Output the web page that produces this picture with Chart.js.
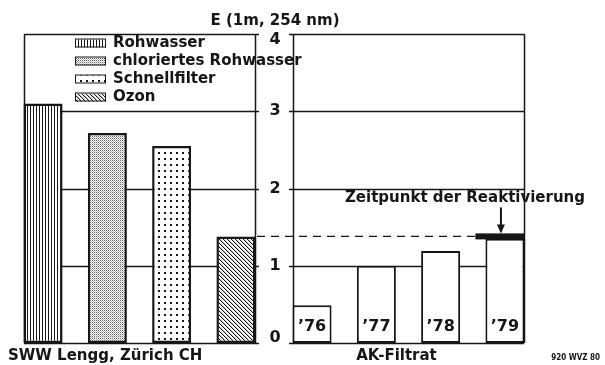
<!DOCTYPE html>
<html>
<head>
<meta charset="utf-8">
<script src="https://cdn.jsdelivr.net/npm/chart.js@4"></script>
<style>
  html, body { margin: 0; padding: 0; background: #fff; }
  #wrap { position: relative; width: 605px; height: 365px; }
</style>
</head>
<body>
<div id="wrap"><canvas id="myChart" width="605" height="365"></canvas></div>
<script>
const categories = ["SWW Lengg, Zürich CH", "AK-Filtrat"];
const treatmentNames = ["Rohwasser", "chloriertes Rohwasser", "Schnellfilter", "Ozon"];
const treatmentValues = [3.1, 2.72, 2.55, 1.38];
const yearNames = ["\u201976", "\u201977", "\u201978", "\u201979"];
const yearValues = [0.49, 1.0, 1.19, 1.35];
const yTicks = [0, 1, 2, 3, 4];
const reactivationLevel = 1.38;
const axisTitle = "E (1m, 254 nm)";
const reactivationText = "Zeitpunkt der Reaktivierung";
const figureNote = "920 WVZ 80";

const FONT = '"DejaVu Sans", "Liberation Sans", sans-serif';
const INK = "#161616";

const canvas = document.getElementById("myChart");

// small repeating tiles for the hatched bars
function makePattern(w, h, draw) {
    const c = document.createElement("canvas");
    c.width = w;
    c.height = h;
    const g = c.getContext("2d");
    g.fillStyle = "#fff";
    g.fillRect(0, 0, w, h);
    g.fillStyle = INK;
    draw(g);
    return canvas.getContext("2d").createPattern(c, "repeat");
}

const fills = [
    // vertical stripes
    makePattern(3, 1, g => g.fillRect(0, 0, 1, 1)),
    // fine stipple
    makePattern(2, 2, g => {
        g.fillStyle = "#666";
        g.fillRect(0, 0, 1, 1);
        g.fillStyle = "#bbb";
        g.fillRect(1, 1, 1, 1);
    }),
    // coarse dots
    makePattern(6, 6, g => g.fillRect(2, 2, 2, 2)),
    // diagonal hatch
    makePattern(4, 4, g => {
        for (let i = 0; i < 4; i++) g.fillRect(i, i, 1, 1);
        g.fillStyle = "#c4c4c4";
        for (let i = 0; i < 4; i++) g.fillRect((i + 1) % 4, i, 1, 1);
    })
];

const datasets = treatmentNames.map((name, i) => ({
    label: name,
    data: [treatmentValues[i], null],
    backgroundColor: fills[i],
    borderColor: INK,
    borderWidth: 2.5
}));
yearNames.forEach((name, i) => datasets.push({
    label: name,
    data: [null, yearValues[i]],
    backgroundColor: "#fff",
    borderColor: INK,
    borderWidth: 2
}));

function line(ctx, x1, y1, x2, y2) {
    ctx.beginPath();
    ctx.moveTo(x1, y1);
    ctx.lineTo(x2, y2);
    ctx.stroke();
}

// horizontal extent of the bars in each category
function panelBounds(chart) {
    return categories.map((_, idx) => {
        let left = Infinity, right = -Infinity, last = null;
        chart.data.datasets.forEach((ds, i) => {
            if (ds.data[idx] == null) return;
            const bar = chart.getDatasetMeta(i).data[idx];
            left = Math.min(left, bar.x - bar.width / 2);
            right = Math.max(right, bar.x + bar.width / 2);
            last = bar;
        });
        return { left: Math.round(left), right: Math.round(right), last };
    });
}

const framePlugin = {
    id: "frames",
    beforeDatasetsDraw(chart) {
        const ctx = chart.ctx;
        const y = chart.scales.y;
        const [lp, rp] = panelBounds(chart);
        const top = y.getPixelForValue(4);
        const bottom = y.getPixelForValue(0);

        ctx.save();
        ctx.strokeStyle = INK;
        ctx.lineWidth = 1.5;
        yTicks.forEach(t => {
            const py = Math.round(y.getPixelForValue(t)) + 0.5;
            line(ctx, lp.left, py, lp.right + 4, py);
            line(ctx, rp.left - 4, py, rp.right, py);
        });
        [lp.left, lp.right, rp.left, rp.right].forEach(px => {
            line(ctx, px + 0.5, top, px + 0.5, bottom);
        });

        // level of the ozone stage carried across to the carbon filter
        const ly = y.getPixelForValue(reactivationLevel);
        ctx.lineWidth = 1.3;
        ctx.setLineDash([8, 6]);
        line(ctx, lp.right + 2, ly, rp.last.x - rp.last.width / 2 - 10, ly);
        ctx.restore();
    },
    afterDatasetsDraw(chart) {
        const ctx = chart.ctx;
        const y = chart.scales.y;
        const [lp, rp] = panelBounds(chart);
        const ly = y.getPixelForValue(reactivationLevel);
        const last = rp.last;

        ctx.save();
        ctx.fillStyle = INK;
        ctx.strokeStyle = INK;

        // reactivation marker on top of the last filter bar
        const mx = last.x - last.width / 2 - 10;
        ctx.fillRect(mx, ly - 3, rp.right + 1 - mx, 6);

        // arrow pointing at it
        const ax = last.x - 4;
        ctx.lineWidth = 2;
        line(ctx, ax, ly - 29, ax, ly - 10);
        ctx.beginPath();
        ctx.moveTo(ax - 4, ly - 12);
        ctx.lineTo(ax + 4, ly - 12);
        ctx.lineTo(ax, ly - 3);
        ctx.closePath();
        ctx.fill();

        ctx.textBaseline = "middle";
        ctx.font = "bold 15px " + FONT;
        ctx.textAlign = "center";
        ctx.fillText(reactivationText, 465, 198);

        // y ticks between the two panels
        const cx = (lp.right + rp.left) / 2 + 1;
        ctx.font = "bold 16px " + FONT;
        yTicks.forEach(t => {
            let py = y.getPixelForValue(t);
            py = Math.min(Math.max(py, y.top + 6), y.bottom - 5);
            ctx.fillText(String(t), cx, py);
        });
        ctx.font = "bold 15px " + FONT;
        ctx.fillText(axisTitle, 275, 21);

        // year labels inside the carbon filter bars
        ctx.font = "bold 16px " + FONT;
        datasets.forEach((ds, i) => {
            if (ds.data[1] == null) return;
            const bar = chart.getDatasetMeta(i).data[1];
            ctx.fillText(ds.label, bar.x, y.bottom - 16);
        });

        // category labels under each panel
        ctx.font = "bold 15px " + FONT;
        ctx.textAlign = "left";
        ctx.fillText(categories[0], lp.left - 16, 356);
        ctx.textAlign = "center";
        ctx.fillText(categories[1], (rp.left + rp.right) / 2 - 12, 356);

        ctx.font = 'bold 8px "DejaVu Sans Condensed", ' + FONT;
        ctx.textAlign = "right";
        ctx.fillText(figureNote, 600, 358);

        // legend for the treatment stages
        ctx.font = "bold 15px " + FONT;
        ctx.textAlign = "left";
        treatmentNames.forEach((name, i) => {
            const ry = 43.5 + i * 18;
            ctx.fillStyle = fills[i];
            ctx.fillRect(75, ry - 4, 31, 8);
            ctx.lineWidth = 1;
            ctx.strokeRect(75.5, ry - 4.5, 30, 8);
            ctx.fillStyle = INK;
            ctx.fillText(name, 113, ry);
        });
        ctx.restore();
    }
};

const chart = new Chart(canvas, {
    type: "bar",
    data: { labels: categories, datasets: datasets },
    options: {
        responsive: false,
        animation: false,
        layout: { padding: { left: 5, right: 62, top: 34, bottom: 22 } },
        datasets: {
            bar: {
                skipNull: true,
                categoryPercentage: 0.956,
                barPercentage: 0.607,
                borderSkipped: false
            }
        },
        scales: {
            x: { display: false },
            y: { display: false, min: 0, max: 4 }
        },
        plugins: {
            legend: { display: false },
            tooltip: { enabled: false }
        }
    },
    plugins: [framePlugin]
});
</script>
</body>
</html>
